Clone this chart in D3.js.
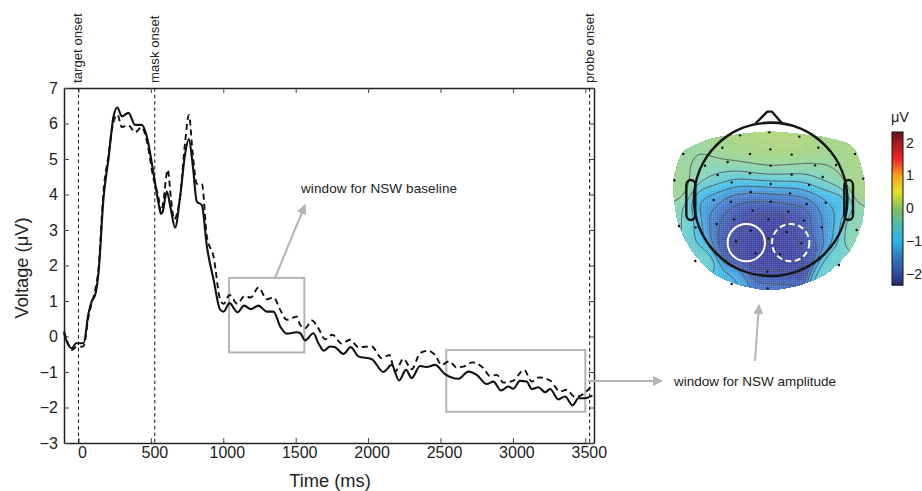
<!DOCTYPE html>
<html>
<head>
<meta charset="utf-8">
<script src="https://cdn.jsdelivr.net/npm/d3@7"></script>
<style>
  html, body { margin: 0; padding: 0; background: #fff; }
  svg { display: block; }
  text { font-family: "Liberation Sans", Arial, sans-serif; fill: #222; }
</style>
</head>
<body>
<div id="chart"></div>
<script>
// ERP traces (ms, microvolts)
const solidTime = [-100,-81,-46,-16,35,69,92,115,138,173,207,242,269,299,345,391,437,472,518,553,569,582,610,637,667,702,737,762,790,817,852,887,933,979,1002,1043,1098,1144,1190,1243,1301,1347,1393,1439,1508,1530,1565,1622,1657,1696,1737,1772,1829,1880,1933,2025,2106,2163,2214,2262,2301,2359,2405,2462,2531,2623,2692,2750,2819,2865,2918,2969,3003,3049,3095,3130,3176,3222,3257,3314,3360,3413,3452,3498,3549];
const solidValues = [0.1,-0.14,-0.33,-0.19,-0.19,0.65,1.0,1.17,1.78,3.9,5.0,6.2,6.45,6.2,6.3,5.96,5.96,5.63,4.6,3.75,3.45,3.52,4.08,3.6,3.07,3.94,5.16,5.56,4.79,3.8,3.7,2.53,1.6,0.75,0.7,0.94,0.68,0.87,0.77,0.87,0.7,0.7,0.28,0.08,0.12,0.1,-0.11,0.09,-0.19,-0.4,-0.28,-0.3,-0.49,-0.3,-0.56,-0.64,-1.0,-0.8,-1.24,-0.94,-1.17,-0.83,-0.86,-0.8,-1.06,-1.19,-0.99,-1.08,-1.34,-1.27,-1.52,-1.41,-1.47,-1.25,-1.27,-1.48,-1.43,-1.57,-1.48,-1.77,-1.69,-1.94,-1.74,-1.74,-1.66];
const dashedTime = [-100,-81,-46,-16,35,69,92,115,138,173,207,242,269,299,345,391,437,472,518,553,569,582,617,637,660,702,737,762,790,817,852,887,933,979,1002,1043,1098,1144,1190,1243,1301,1347,1393,1439,1508,1530,1565,1611,1657,1703,1753,1818,1875,1933,2025,2094,2147,2186,2244,2301,2359,2416,2462,2508,2559,2612,2658,2722,2796,2842,2888,2934,3003,3077,3130,3176,3257,3326,3372,3429,3487,3549];
const dashedValues = [0.15,-0.1,-0.38,-0.3,-0.28,0.55,0.95,1.3,1.9,4.1,5.1,6.05,6.25,5.9,5.95,5.75,5.9,5.5,4.45,3.9,3.5,3.7,4.7,3.95,3.3,3.95,5.5,6.24,5.1,4.3,4.3,2.8,2.25,1.03,0.92,1.17,0.92,1.13,1.1,1.38,1.05,1.1,0.75,0.47,0.56,0.33,0.23,0.45,0.23,-0.08,0.05,-0.2,-0.09,-0.3,-0.28,-0.61,-0.52,-0.99,-0.63,-0.92,-0.47,-0.4,-0.52,-0.8,-0.7,-0.87,-0.85,-0.73,-0.89,-1.11,-1.08,-1.3,-1.24,-0.94,-1.27,-1.15,-1.24,-1.55,-1.5,-1.71,-1.62,-1.36];

const xTicks = [0,500,1000,1500,2000,2500,3000,3500];
const yTicks = [-3,-2,-1,0,1,2,3,4,5,6,7];
const eventNames = ['target onset','mask onset','probe onset'];
const eventTimes = [0,527,3530];

// electrodes: position on the head picture and the voltage at that site
const sensorX = [240,328,418,187,331,475,70,270,395,585,203,332,465,135,528,173,270,395,488,43,610,215,332,447,272,390,161,213,332,440,497,278,385,222,325,432,170,57,107,485,590,272,380,325,228,424,287,360,106,537,322,215,323];
const sensorY = [106,97,110,143,148,143,162,162,164,162,186,197,196,197,195,225,220,224,231,241,236,247,252,255,276,280,300,305,305,312,308,332,335,358,358,362,372,378,382,382,390,392,396,415,424,430,460,463,483,495,515,552,565];
const sensorV = [0.05,0.15,0.15,0,0.1,0,-0.15,0.05,0.05,0.05,-0.1,-0.1,-0.1,-0.25,-0.1,-0.6,-0.4,-0.4,-0.45,-0.1,0,-1,-0.9,-0.9,-1.5,-1.4,-1.1,-1.75,-1.8,-1.75,-1,-2,-2,-2,-2.25,-2,-1.7,-0.3,-0.9,-1.2,-0.3,-2,-2.05,-2.35,-2,-2,-2.1,-2.1,-0.6,-0.6,-2.1,-1.05,-1.4];
const outlineX = [40,45,70,130,185,330,480,560,590,610,615,605,570,500,420,330,240,160,95,55];
const outlineY = [270,220,155,125,110,95,110,130,160,230,290,370,450,520,555,570,555,520,450,370];

const colorStops = [-2.35,-2,-1.5,-1,-0.5,0,0.5,1,1.5,2,2.35];
const colorValues = ['#23246e','#2f4a9e','#2f74b8','#28b5e8','#4cb8a8','#7dbf5a','#e3e01f','#f9a01b','#ed2024','#a5161b','#5a0d12'];
const mapColors = ['#3f3f9c','#4650a8','#4a84d0','#48c0ea','#80d4c4','#a8d484','#dde26a','#fbbb5e','#f06a5a','#c05050','#905050'];
const colorTicks = [-2,-1,0,1,2];

const svg = d3.select('#chart').append('svg').attr('width', 922).attr('height', 491);
const plot = { left: 64, right: 594, top: 88, bottom: 443 };

const x = d3.scaleLinear().domain([-100, 3560]).range([plot.left, plot.right]);
const y = d3.scaleLinear().domain([-3, 7]).range([plot.bottom, plot.top]);
const gray = '#b4b4b4';

// frame with inward ticks on all four sides
function styleAxis(g, fontSize) {
  g.selectAll('.domain').attr('stroke', '#222').attr('stroke-width', 1.5);
  g.selectAll('.tick line').attr('stroke', '#444').attr('stroke-width', 1);
  g.selectAll('text').attr('font-size', fontSize).attr('font-family', '"Liberation Sans", Arial, sans-serif').attr('fill', '#222');
}
svg.append('g').attr('transform', `translate(0,${plot.bottom})`)
  .call(d3.axisBottom(x).tickValues(xTicks).tickFormat(d3.format('d')).tickSizeOuter(0).tickSizeInner(-5).tickPadding(4))
  .call(styleAxis, 16)
  .call(g => g.selectAll('text').attr('dx', 3.5));
svg.append('g').attr('transform', `translate(0,${plot.top})`)
  .call(d3.axisTop(x).tickValues(xTicks).tickFormat('').tickSizeOuter(0).tickSizeInner(-5))
  .call(styleAxis, 16);
svg.append('g').attr('transform', `translate(${plot.left},0)`)
  .call(d3.axisLeft(y).tickValues(yTicks).tickFormat(d => d < 0 ? '\u2212' + (-d) : d).tickSizeOuter(0).tickSizeInner(-5).tickPadding(6))
  .call(styleAxis, 16);
svg.append('g').attr('transform', `translate(${plot.right},0)`)
  .call(d3.axisRight(y).tickValues(yTicks).tickFormat('').tickSizeOuter(0).tickSizeInner(-5))
  .call(styleAxis, 16);

svg.append('text').attr('x', 330).attr('y', 487).attr('text-anchor', 'middle').attr('font-size', 18.3).text('Time (ms)');
svg.append('text').attr('transform', 'translate(28,268) rotate(-90)').attr('text-anchor', 'middle').attr('font-size', 18.3).text('Voltage (\u03BCV)');

// event markers
eventTimes.forEach((t, i) => {
  svg.append('line').attr('x1', x(t)).attr('x2', x(t)).attr('y1', plot.top).attr('y2', plot.bottom)
    .attr('stroke', '#111').attr('stroke-width', 1).attr('stroke-dasharray', '3.5,3');
  svg.append('text').attr('transform', `translate(${x(t) + 4},83) rotate(-90)`)
    .attr('font-size', 13.2).text(eventNames[i]);
});

// analysis windows
const windows = [
  { t0: 1040, t1: 1560, v0: 1.65, v1: -0.45 },
  { t0: 2540, t1: 3500, v0: -0.38, v1: -2.12 }
];
svg.selectAll('.win').data(windows).join('rect').attr('class', 'win')
  .attr('x', d => x(d.t0)).attr('y', d => y(d.v0))
  .attr('width', d => x(d.t1) - x(d.t0)).attr('height', d => y(d.v1) - y(d.v0))
  .attr('fill', 'none').attr('stroke', gray).attr('stroke-width', 2);

// traces
const solidPts = solidTime.map((t, i) => [t, solidValues[i]]);
const dashedPts = dashedTime.map((t, i) => [t, dashedValues[i]]);
const traceLine = d3.line().x(d => x(d[0])).y(d => y(d[1])).curve(d3.curveMonotoneX);
svg.append('path').attr('d', traceLine(dashedPts)).attr('fill', 'none').attr('stroke', '#111')
  .attr('stroke-width', 1.9).attr('stroke-dasharray', '6,4');
svg.append('path').attr('d', traceLine(solidPts)).attr('fill', 'none').attr('stroke', '#111').attr('stroke-width', 2.1);

// arrows
const defs = svg.append('defs');
defs.append('marker').attr('id', 'head').attr('viewBox', '0 0 10 10')
  .attr('refX', 9).attr('refY', 5).attr('markerWidth', 10).attr('markerHeight', 10)
  .attr('markerUnits', 'userSpaceOnUse').attr('orient', 'auto')
  .append('path').attr('d', 'M0,0L10,5L0,10Z').attr('fill', gray);
const arrows = [[275, 278, 305, 205], [588, 381, 662, 381], [755, 361, 759, 305]];
svg.selectAll('.arrow').data(arrows).join('line').attr('class', 'arrow')
  .attr('x1', d => d[0]).attr('y1', d => d[1]).attr('x2', d => d[2]).attr('y2', d => d[3])
  .attr('stroke', gray).attr('stroke-width', 2).attr('marker-end', 'url(#head)');
svg.append('text').attr('x', 301).attr('y', 193).attr('font-size', 13.5).attr('textLength', 156).text('window for NSW baseline');
svg.append('text').attr('x', 674).attr('y', 386).attr('font-size', 13.5).attr('textLength', 162).text('window for NSW amplitude');

// topographic map: coordinates below are in the 3x crop of the map, so scale back down
const mx = d3.scaleLinear().domain([0, 262 * 3]).range([660, 922]);
const my = d3.scaleLinear().domain([0, 210 * 3]).range([100, 310]);
const colorMap = d3.scaleLinear().domain(colorStops).range(mapColors).clamp(true);
const colorBar = d3.scaleLinear().domain(colorStops).range(colorValues).clamp(true);

const topo = svg.append('g');
const outlinePts = outlineX.map((v, i) => [mx(v), my(outlineY[i])]);
const outlineLine = d3.line().curve(d3.curveCardinalClosed.tension(0.3));
topo.append('clipPath').attr('id', 'scalp').append('path').attr('d', outlineLine(outlinePts));

// smooth the electrode values on to a grid (gaussian weighted average)
const gridW = 210, gridH = 170, step = 3.2;
const sigma = 36;
const grid = new Float64Array(gridW * gridH);
for (let j = 0; j < gridH; j++) {
  for (let i = 0; i < gridW; i++) {
    let sum = 0, wt = 0;
    sensorV.forEach((v, k) => {
      const dx = i * step + 20 - sensorX[k], dy = j * step + 50 - sensorY[k];
      const w = Math.exp(-(dx * dx + dy * dy) / (2 * sigma * sigma));
      sum += w * v; wt += w;
    });
    grid[j * gridW + i] = sum / wt;
  }
}
const gridPath = d3.geoPath(d3.geoTransform({
  point(px, py) { this.stream.point(mx(px * step + 20), my(py * step + 50)); }
}));
const scalp = topo.append('g').attr('clip-path', 'url(#scalp)');
const fillLevels = d3.range(-2.6, 0.6, 0.05);
const contourer = d3.contours().size([gridW, gridH]);
scalp.selectAll('.band').data(contourer.thresholds(fillLevels)(grid)).join('path').attr('class', 'band')
  .attr('d', gridPath).attr('fill', d => colorMap(d.value));

// halftone speckle of the printed map
const speckle = defs.append('pattern').attr('id', 'speckle').attr('width', 2).attr('height', 2)
  .attr('patternUnits', 'userSpaceOnUse');
speckle.append('rect').attr('width', 1).attr('height', 1).attr('fill', '#fff').attr('opacity', 0.18);
scalp.append('path').attr('d', outlineLine(outlinePts)).attr('fill', 'url(#speckle)');

const lineLevels = [-2, -1.7, -1.4, -1.1, -0.8, -0.5, -0.2];
scalp.selectAll('.iso').data(contourer.thresholds(lineLevels)(grid)).join('path').attr('class', 'iso')
  .attr('d', gridPath).attr('fill', 'none').attr('stroke', '#55595c').attr('stroke-width', 1);

// head, ears, nose
const headStroke = '#151515';
topo.append('path').attr('d', d3.line().curve(d3.curveLinear)([[285, 72], [322, 35], [336, 35], [368, 72]].map(p => [mx(p[0]), my(p[1])])))
  .attr('fill', 'none').attr('stroke', headStroke).attr('stroke-width', 2.4).attr('stroke-linejoin', 'round');
[[79, 106], [553, 579]].forEach(e => {
  topo.append('rect').attr('x', mx(e[0])).attr('y', my(240)).attr('width', mx(e[1]) - mx(e[0])).attr('height', my(360) - my(240))
    .attr('rx', 5).attr('fill', 'none').attr('stroke', headStroke).attr('stroke-width', 2.4);
});
topo.append('circle').attr('cx', mx(332)).attr('cy', my(298)).attr('r', mx(230) - mx(0))
  .attr('fill', 'none').attr('stroke', headStroke).attr('stroke-width', 2.6);

// electrode sites and the two regions of interest
topo.selectAll('.site').data(sensorX).join('circle').attr('class', 'site')
  .attr('cx', d => mx(d)).attr('cy', (d, i) => my(sensorY[i])).attr('r', 1.2).attr('fill', '#111');
topo.append('circle').attr('cx', mx(259)).attr('cy', my(428)).attr('r', mx(56) - mx(0))
  .attr('fill', 'none').attr('stroke', '#fff').attr('stroke-width', 2);
topo.append('circle').attr('cx', mx(392)).attr('cy', my(428)).attr('r', mx(56) - mx(0))
  .attr('fill', 'none').attr('stroke', '#fff').attr('stroke-width', 2).attr('stroke-dasharray', '6,3.5');

// colour bar
const barY = d3.scaleLinear().domain([-2.35, 2.33]).range([285, 132]);
const barSteps = d3.range(-2.35, 2.33, 0.02);
svg.selectAll('.barcell').data(barSteps).join('rect').attr('class', 'barcell')
  .attr('x', 892).attr('width', 11).attr('y', d => barY(d + 0.02)).attr('height', d => barY(d) - barY(d + 0.02) + 0.5)
  .attr('fill', d => colorBar(d));
svg.append('rect').attr('x', 892).attr('y', 132).attr('width', 11).attr('height', 153)
  .attr('fill', 'none').attr('stroke', '#111').attr('stroke-width', 1);
svg.selectAll('.barlabel').data(colorTicks).join('text').attr('class', 'barlabel')
  .attr('x', 906).attr('y', d => barY(d) + 5).attr('font-size', 14)
  .text(d => d < 0 ? '\u2212' + (-d) : d);
svg.append('text').attr('x', 891).attr('y', 122).attr('font-size', 14.5).text('\u03BCV');
</script>
</body>
</html>
